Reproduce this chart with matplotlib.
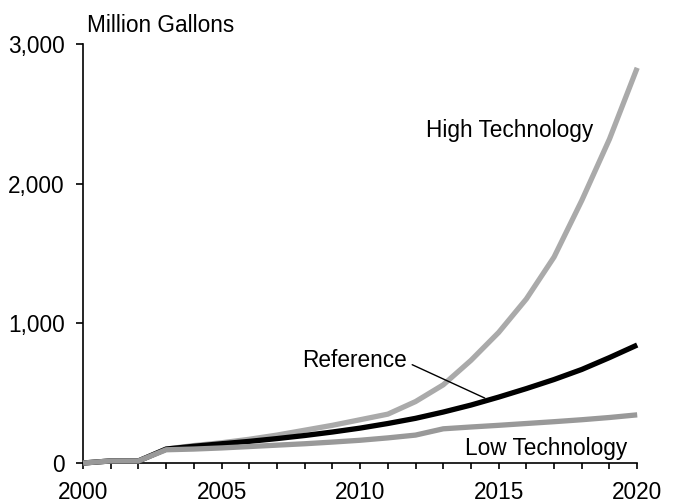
import matplotlib.pyplot as plt
from matplotlib.ticker import FuncFormatter, MultipleLocator

plt.rcParams['font.family'] = ['Liberation Sans', 'DejaVu Sans']

years = list(range(2000, 2021))
high_tech = [0, 15, 15, 100, 125, 145, 170, 200, 235, 270, 310, 350,
             440, 560, 735, 935, 1175, 1475, 1880, 2320, 2830]
reference = [0, 15, 15, 100, 120, 138, 155, 175, 197, 222, 250, 283,
             320, 365, 415, 472, 533, 598, 670, 755, 845]
low_tech = [0, 15, 15, 95, 100, 108, 118, 128, 138, 150, 163, 180,
            200, 245, 258, 270, 283, 296, 310, 326, 345]

fs = 16.3

fig = plt.figure(figsize=(6.75, 5.04), dpi=100)
ax = fig.add_axes([0.123, 0.0813, 0.821, 0.8313])

ax.plot(years, high_tech, color='#aaaaaa', lw=3.8, clip_on=False,
        solid_capstyle='butt', zorder=3)
ax.plot(years, reference, color='black', lw=3.8, clip_on=False,
        solid_capstyle='butt', zorder=4)
ax.plot(years, low_tech, color='#999999', lw=3.8, clip_on=False,
        solid_capstyle='butt', zorder=5)

ax.set_xlim(2000, 2020)
ax.set_ylim(0, 3000)
ax.xaxis.set_major_locator(MultipleLocator(5))
ax.xaxis.set_minor_locator(MultipleLocator(1))
ax.yaxis.set_major_locator(MultipleLocator(1000))
ax.yaxis.set_major_formatter(FuncFormatter(lambda v, p: '{:,.0f}'.format(v)))

for s in ['top', 'right']:
    ax.spines[s].set_visible(False)
ax.spines['left'].set_linewidth(1.2)
ax.spines['bottom'].set_linewidth(1.2)
ax.tick_params(axis='both', which='both', direction='out', width=1.2,
               labelsize=fs, color='black')
ax.tick_params(axis='y', length=5, pad=8)
ax.tick_params(axis='x', which='both', length=4, pad=9)

ax.text(2015.4, 2384, 'High Technology', fontsize=fs, ha='center', va='center')
ax.annotate('Reference', xy=(2014.5, 465), xytext=(2009.8, 737),
            fontsize=fs, ha='center', va='center',
            arrowprops=dict(arrowstyle='-', color='black', lw=1.0,
                            shrinkA=0, shrinkB=0,
                            relpos=(1.05, 0.3)))
ax.text(2019.65, 107, 'Low Technology', fontsize=fs, ha='right', va='center')

fig.text(87 / 675, 1 - 25 / 504, 'Million Gallons', fontsize=fs,
         ha='left', va='center')

fig.savefig('out.png', dpi=100)
